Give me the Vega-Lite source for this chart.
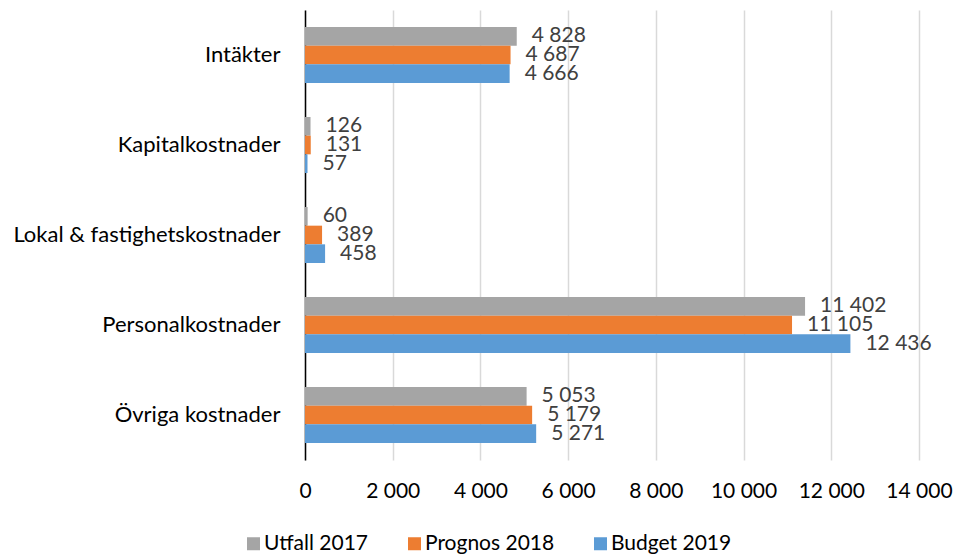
{
  "$schema": "https://vega.github.io/schema/vega-lite/v6.json",
  "width": 614,
  "height": 450,
  "autosize": {"type": "none"},
  "padding": {"left": 305, "top": 10, "right": 36, "bottom": 98},
  "background": "white",
  "config": {
    "locale": {"number": {"decimal": ",", "thousands": " ", "grouping": [3], "currency": ["", " kr"]}},
    "font": "Lato",
    "view": {"stroke": null}
  },
  "data": {
    "values": [
      {"kategori": "Intäkter", "serie": "Utfall 2017", "varde": 4828},
      {"kategori": "Intäkter", "serie": "Prognos 2018", "varde": 4687},
      {"kategori": "Intäkter", "serie": "Budget 2019", "varde": 4666},
      {"kategori": "Kapitalkostnader", "serie": "Utfall 2017", "varde": 126},
      {"kategori": "Kapitalkostnader", "serie": "Prognos 2018", "varde": 131},
      {"kategori": "Kapitalkostnader", "serie": "Budget 2019", "varde": 57},
      {"kategori": "Lokal & fastighetskostnader", "serie": "Utfall 2017", "varde": 60},
      {"kategori": "Lokal & fastighetskostnader", "serie": "Prognos 2018", "varde": 389},
      {"kategori": "Lokal & fastighetskostnader", "serie": "Budget 2019", "varde": 458},
      {"kategori": "Personalkostnader", "serie": "Utfall 2017", "varde": 11402},
      {"kategori": "Personalkostnader", "serie": "Prognos 2018", "varde": 11105},
      {"kategori": "Personalkostnader", "serie": "Budget 2019", "varde": 12436},
      {"kategori": "Övriga kostnader", "serie": "Utfall 2017", "varde": 5053},
      {"kategori": "Övriga kostnader", "serie": "Prognos 2018", "varde": 5179},
      {"kategori": "Övriga kostnader", "serie": "Budget 2019", "varde": 5271}
    ]
  },
  "encoding": {
    "y": {
      "field": "kategori",
      "type": "nominal",
      "sort": ["Intäkter", "Kapitalkostnader", "Lokal & fastighetskostnader", "Personalkostnader", "Övriga kostnader"],
      "scale": {"paddingInner": 0.378, "paddingOuter": 0.189},
      "axis": {
        "title": null,
        "ticks": false,
        "grid": false,
        "domainColor": "#000000",
        "domainWidth": 1.5,
        "labelFontSize": 22,
        "labelColor": "#000000",
        "labelPadding": 25,
        "labelLimit": 400
      }
    },
    "yOffset": {
      "field": "serie",
      "type": "nominal",
      "sort": ["Utfall 2017", "Prognos 2018", "Budget 2019"]
    }
  },
  "layer": [
    {
      "mark": {"type": "bar"},
      "encoding": {
        "x": {
          "field": "varde",
          "type": "quantitative",
          "scale": {"domain": [0, 14000], "nice": false},
          "axis": {
            "title": null,
            "domain": false,
            "ticks": false,
            "grid": true,
            "gridColor": "#d9d9d9",
            "gridWidth": 1.5,
            "values": [0, 2000, 4000, 6000, 8000, 10000, 12000, 14000],
            "format": ",d",
            "labelOverlap": false,
            "labelFlush": false,
            "labelFontSize": 21,
            "labelColor": "#000000",
            "labelPadding": 20
          }
        },
        "color": {
          "field": "serie",
          "type": "nominal",
          "scale": {
            "domain": ["Utfall 2017", "Prognos 2018", "Budget 2019"],
            "range": ["#A5A5A5", "#ED7D31", "#5B9BD5"]
          },
          "legend": {
            "title": null,
            "orient": "none",
            "direction": "horizontal",
            "legendX": -62,
            "legendY": 523,
            "symbolType": "square",
            "symbolSize": 169,
            "symbolStrokeWidth": 0,
            "labelFontSize": 21,
            "labelColor": "#000000",
            "labelOffset": 0,
            "columnPadding": 35
          }
        }
      }
    },
    {
      "mark": {"type": "text", "align": "left", "baseline": "middle", "dx": 15, "fontSize": 21, "color": "#404040"},
      "encoding": {
        "x": {"field": "varde", "type": "quantitative"},
        "text": {"field": "varde", "type": "quantitative", "format": ",d"}
      }
    }
  ]
}
